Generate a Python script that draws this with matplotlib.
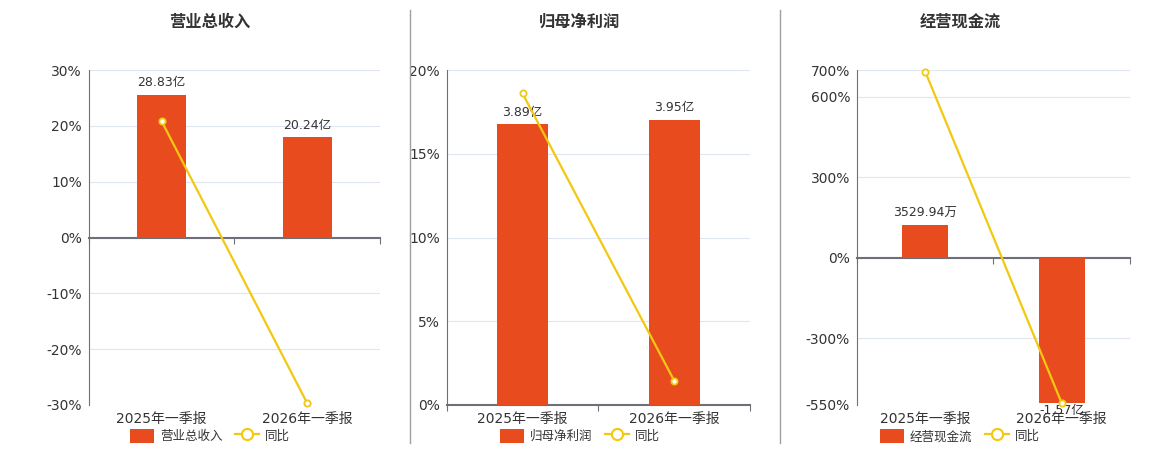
import matplotlib
matplotlib.use("Agg")
import matplotlib.pyplot as plt
from matplotlib.patches import Patch
from matplotlib.lines import Line2D

plt.rcParams['font.family'] = ['DejaVu Sans', 'Noto Sans CJK SC']

# data
periods = ["2025年一季报", "2026年一季报"]
titles = ["营业总收入", "归母净利润", "经营现金流"]
revenue = [28.83, 20.24]          # 亿
revenue_yoy = [20.8, -29.7]       # %
profit = [3.89, 3.95]             # 亿
profit_yoy = [18.6, 1.45]
cashflow = [0.352994, -1.57]      # 亿
cashflow_yoy = [694, -543]

bar_color = "#E84C1E"
line_color = "#F2C811"
grid_color = "#E0E6F1"
axis_color = "#6E7079"
text_color = "#333333"

# per panel settings: axes rect, pct limits, pct ticks, bar-axis limits
panels = [
    dict(title=titles[0], bars=revenue, yoy=revenue_yoy,
         rect=[0.0767, 0.1, 0.2509, 0.7444], ylim=(-30, 30),
         yticks=[-30, -20, -10, 0, 10, 20, 30], blim=(-33.8, 33.8), cx=210),
    dict(title=titles[1], bars=profit, yoy=profit_yoy,
         rect=[0.3851, 0.1, 0.2615, 0.7444], ylim=(0, 20),
         yticks=[0, 5, 10, 15, 20], blim=(0, 4.64), cx=580),
    dict(title=titles[2], bars=cashflow, yoy=cashflow_yoy,
         rect=[0.7388, 0.1, 0.2353, 0.7444], ylim=(-550, 700),
         yticks=[-550, -300, 0, 300, 600, 700], blim=(-550 * 0.0029, 700 * 0.0029), cx=960),
]


def fmt_amount(v):
    if abs(v) >= 1:
        return f"{v:.2f}亿"
    return f"{v * 1e4:.2f}万"


fig = plt.figure(figsize=(11.6, 4.5), dpi=100)
x = list(range(len(periods)))

for p in panels:
    ax = fig.add_axes(p["rect"])
    ax.set_xlim(-0.5, len(periods) - 0.5)
    ax.set_ylim(*p["ylim"])
    ax.set_yticks(p["yticks"])
    ax.set_yticklabels([f"{t}%" for t in p["yticks"]])
    ax.tick_params(axis="y", length=0, labelsize=10, labelcolor=text_color, pad=5)
    ax.grid(axis="y", color=grid_color, lw=0.8)
    ax.set_axisbelow(True)
    for s in ["top", "right"]:
        ax.spines[s].set_visible(False)
    ax.spines["left"].set_color(axis_color)
    ax.spines["left"].set_linewidth(0.8)
    ax.spines["bottom"].set_position(("data", 0))
    ax.spines["bottom"].set_color(axis_color)
    ax.spines["bottom"].set_linewidth(1.5)
    ax.spines["bottom"].set_zorder(5)
    ax.set_xticks([-0.5, 0.5, 1.5])
    ax.set_xticklabels([])
    ax.tick_params(axis="x", length=4, color=axis_color, direction="out")
    for i, lab in enumerate(periods):
        ax.text(i, -0.022, lab, transform=ax.get_xaxis_transform(),
                ha="center", va="top", fontsize=10, color=text_color)

    # bars on their own scale
    axb = ax.twinx()
    axb.set_ylim(*p["blim"])
    axb.axis("off")
    axb.bar(x, p["bars"], width=0.337, color=bar_color, zorder=2)
    for i, v in enumerate(p["bars"]):
        axb.annotate(fmt_amount(v), (i, v), xytext=(0, 4 if v >= 0 else -1),
                     textcoords="offset points", ha="center",
                     va="bottom" if v >= 0 else "top", fontsize=9, color=text_color)

    # yoy line on top
    axl = ax.twinx()
    axl.set_ylim(*p["ylim"])
    axl.axis("off")
    axl.plot(x, p["yoy"], color=line_color, lw=1.6, marker="o", ms=4.5,
             mfc="white", mec=line_color, mew=1.3, clip_on=False)

    fig.text(p["cx"] / 1160, 1 - 22 / 450, p["title"], ha="center", va="center",
             fontsize=11.7, fontweight="bold", color=text_color)

    handles = [Patch(facecolor=bar_color, edgecolor="none"),
               Line2D([], [], color=line_color, lw=1.6, marker="o", ms=8,
                      mfc="white", mec=line_color, mew=1.5)]
    fig.legend(handles, [p["title"], "同比"], loc="center",
               bbox_to_anchor=(p["cx"] / 1160, 1 - 436 / 450), ncol=2,
               frameon=False, fontsize=9, handlelength=1.9, handleheight=1.4,
               columnspacing=1.0, handletextpad=0.5, labelcolor=text_color)

# panel separators
for sx in [410, 780]:
    fig.add_artist(Line2D([sx / 1160, sx / 1160], [1 - 10 / 450, 1 - 443 / 450],
                          color="#A0A0A0", lw=1))

fig.savefig("out.png", dpi=100)
